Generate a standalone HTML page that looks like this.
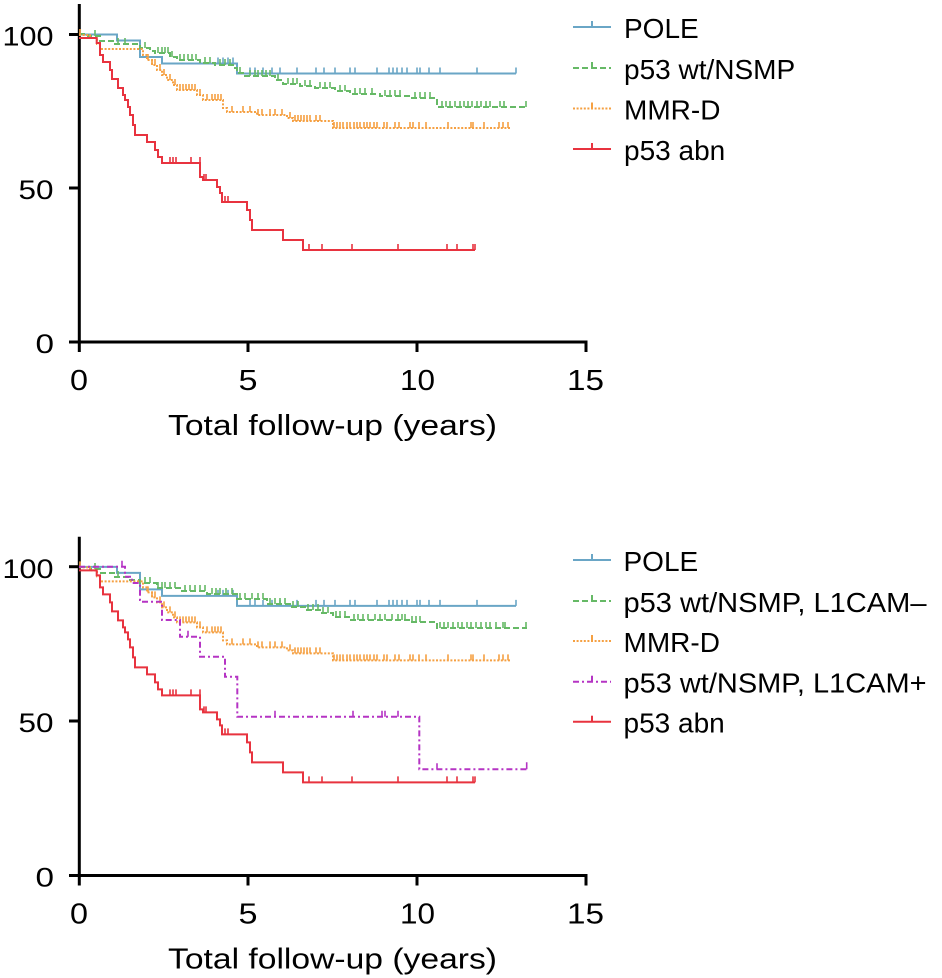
<!DOCTYPE html>
<html>
<head>
<meta charset="utf-8">
<style>
  html, body { margin: 0; padding: 0; background: #ffffff; }
  body { width: 942px; height: 978px; overflow: hidden; }
  svg { display: block; }
  text { font-family: "Liberation Sans", Arial, sans-serif; fill: #000; }
</style>
</head>
<body>
<svg width="942" height="978" viewBox="0 0 942 978" xmlns="http://www.w3.org/2000/svg">
  <defs>
    <g id="blueC">
      <path d="M79,34.5 H117 V40.5 H140 V57 H162 V63.5 H237 V73.5 H516" fill="none" stroke="#6aa6c6" stroke-width="2"/>
      <path d="M218 63.5v-6M223 63.5v-6M228 63.5v-6M233 63.5v-6M250 73.5v-6M255 73.5v-6M263 73.5v-6M272 73.5v-6M280 73.5v-6M297 73.5v-6M316 73.5v-6M324 73.5v-6M335 73.5v-6M350 73.5v-6M355 73.5v-6M377 73.5v-6M389 73.5v-6M393 73.5v-6M397 73.5v-6M402 73.5v-6M407 73.5v-6M417 73.5v-6M420 73.5v-6M429 73.5v-6M440 73.5v-6M477 73.5v-6M516 73.5v-6" fill="none" stroke="#6aa6c6" stroke-width="1.6"/>
    </g>
    <g id="orangeC">
      <path d="M79,35 H90 V38 H97 V44 H100 V49 H143 V55 H147 V60 H152 V65 H157 V70 H162 V75 H167 V80 H173 V85 H177 V90 H197 V95 H203 V100 H223 V108 H227 V112 H257 V115 H287 V118 H293 V121 H333 V128 H510" fill="none" stroke="#f5a042" stroke-width="2" stroke-dasharray="2,1.6"/>
      <path d="M80 35v-6M148 60v-6M152 65v-6M155 65v-6M160 70v-6M164 75v-6M170 80v-6M175 85v-6M180 90v-6M183 90v-6M186 90v-6M189 90v-6M192 90v-6M195 90v-6M200 95v-6M207 100v-6M212 100v-6M215 100v-6M218 100v-6M221 100v-6M232 112v-6M243 112v-6M250 112v-6M258 115v-6M262 115v-6M270 115v-6M275 115v-6M282 115v-6M290 118v-6M295 121v-6M298 121v-6M301 121v-6M304 121v-6M307 121v-6M310 121v-6M316 121v-6M320 121v-6M334 128v-6M337 128v-6M340 128v-6M343 128v-6M347 128v-6M350 128v-6M354 128v-6M357 128v-6M360 128v-6M364 128v-6M367 128v-6M370 128v-6M374 128v-6M377 128v-6M384 128v-6M387 128v-6M395 128v-6M399 128v-6M410 128v-6M413 128v-6M419 128v-6M426 128v-6M448 128v-6M471 128v-6M473 128v-6M484 128v-6M499 128v-6M503 128v-6M508 128v-6" fill="none" stroke="#f5a042" stroke-width="1.6"/>
    </g>
    <g id="redC">
      <path d="M79,38 H96.7 V43 H100 V55 H103 V62 H110 V70 H112 V79 H118 V88 H123 V95 H125 V100 H128 V107 H130 V115 H133 V125 H135 V135 H147 V142 H155 V150 H158 V157 H162 V163 H200 V177 H203 V180 H217 V187 H220 V193 H222 V202 H247 V210 H250 V220 H252 V230 H283 V240 H303 V250 H475" fill="none" stroke="#e8333f" stroke-width="2"/>
      <path d="M170 163v-6M173 163v-6M176 163v-6M191 163v-6M200 163v-6M204 180v-6M206 180v-6M225 202v-6M228 202v-6M309 250v-6M322 250v-6M352 250v-6M398 250v-6M447 250v-6M457 250v-6M473 250v-6M475 250v-6" fill="none" stroke="#e8333f" stroke-width="1.6"/>
    </g>
  </defs>

  <!-- ================= TOP CHART ================= -->
  <g stroke="#000" stroke-width="3" fill="none">
    <line x1="79.3" y1="4" x2="79.3" y2="352"/>
    <line x1="69" y1="342" x2="587.5" y2="342"/>
    <line x1="69" y1="34.5" x2="79.3" y2="34.5"/>
    <line x1="69" y1="188" x2="79.3" y2="188"/>
    <line x1="248" y1="342" x2="248" y2="352"/>
    <line x1="417" y1="342" x2="417" y2="352"/>
    <line x1="586" y1="342" x2="586" y2="352"/>
  </g>
  <text x="2.5" y="45.7" font-size="27" textLength="51" lengthAdjust="spacingAndGlyphs">100</text>
  <text x="18.5" y="199.2" font-size="27" textLength="35" lengthAdjust="spacingAndGlyphs">50</text>
  <text x="35.5" y="353.2" font-size="27" textLength="18.5" lengthAdjust="spacingAndGlyphs">0</text>
  <text x="70" y="390" font-size="29" textLength="18" lengthAdjust="spacingAndGlyphs">0</text>
  <text x="238.5" y="390" font-size="29" textLength="19" lengthAdjust="spacingAndGlyphs">5</text>
  <text x="400" y="390" font-size="29" textLength="35" lengthAdjust="spacingAndGlyphs">10</text>
  <text x="567" y="390" font-size="29" textLength="37" lengthAdjust="spacingAndGlyphs">15</text>
  <text x="168" y="435" font-size="29" textLength="329" lengthAdjust="spacingAndGlyphs">Total follow-up (years)</text>

  <use href="#blueC"/>
  <path d="M79,34 H88 V36 H100 V41 H115 V44 H140 V48 H150 V51 H155 V53 H170 V57 H177 V60 H200 V63 H215 V65 H233 V68 H237 V73 H245 V76 H275 V80 H283 V84 H300 V86 H315 V88 H335 V91 H350 V94 H380 V96 H410 V98 H437 V107 H527" fill="none" stroke="#66b966" stroke-width="2" stroke-dasharray="6,3"/>
  <path d="M95 36v-6M118 44v-6M125 44v-6M145 48v-6M158 53v-6M162 53v-6M165 53v-6M168 53v-6M172 57v-6M180 60v-6M184 60v-6M188 60v-6M192 60v-6M196 60v-6M205 63v-6M210 63v-6M220 65v-6M225 65v-6M230 65v-6M240 73v-6M250 76v-6M255 76v-6M258 76v-6M262 76v-6M266 76v-6M270 76v-6M278 80v-6M288 84v-6M293 84v-6M297 84v-6M305 86v-6M310 86v-6M320 88v-6M325 88v-6M330 88v-6M340 91v-6M345 91v-6M355 94v-6M360 94v-6M365 94v-6M372 94v-6M385 96v-6M390 96v-6M395 96v-6M400 96v-6M415 98v-6M420 98v-6M425 98v-6M430 98v-6M442 107v-6M446 107v-6M450 107v-6M455 107v-6M460 107v-6M464 107v-6M468 107v-6M472 107v-6M477 107v-6M481 107v-6M486 107v-6M490 107v-6M500 107v-6M504 107v-6M526 107v-6" fill="none" stroke="#66b966" stroke-width="1.6"/>
  <use href="#orangeC"/>
  <use href="#redC"/>

  <g stroke-width="2" fill="none">
    <line x1="573" y1="27" x2="611" y2="27" stroke="#6aa6c6"/>
    <line x1="592" y1="27" x2="592" y2="21" stroke="#6aa6c6"/>
    <line x1="573" y1="68" x2="611" y2="68" stroke="#66b966" stroke-dasharray="6,3"/>
    <line x1="592" y1="68" x2="592" y2="62" stroke="#66b966"/>
    <line x1="573" y1="108.5" x2="611" y2="108.5" stroke="#f5a042" stroke-dasharray="2,1.6"/>
    <line x1="592" y1="108.5" x2="592" y2="102.5" stroke="#f5a042"/>
    <line x1="573" y1="149" x2="611" y2="149" stroke="#e8333f"/>
    <line x1="592" y1="149" x2="592" y2="143" stroke="#e8333f"/>
  </g>
  <text x="624" y="38" font-size="28">POLE</text>
  <text x="624" y="79" font-size="28">p53 wt/NSMP</text>
  <text x="624" y="119.5" font-size="28">MMR-D</text>
  <text x="624" y="160" font-size="28">p53 abn</text>

  <!-- ================= BOTTOM CHART ================= -->
  <g stroke="#000" stroke-width="3" fill="none">
    <line x1="79.3" y1="536.7" x2="79.3" y2="885.5"/>
    <line x1="69" y1="875.5" x2="587.5" y2="875.5"/>
    <line x1="69" y1="566.7" x2="79.3" y2="566.7"/>
    <line x1="69" y1="721" x2="79.3" y2="721"/>
    <line x1="248" y1="875.5" x2="248" y2="885.5"/>
    <line x1="417" y1="875.5" x2="417" y2="885.5"/>
    <line x1="586" y1="875.5" x2="586" y2="885.5"/>
  </g>
  <text x="2.5" y="578" font-size="27" textLength="51" lengthAdjust="spacingAndGlyphs">100</text>
  <text x="18.5" y="732.2" font-size="27" textLength="35" lengthAdjust="spacingAndGlyphs">50</text>
  <text x="35.5" y="886.7" font-size="27" textLength="18.5" lengthAdjust="spacingAndGlyphs">0</text>
  <text x="70" y="923.5" font-size="29" textLength="18" lengthAdjust="spacingAndGlyphs">0</text>
  <text x="238.5" y="923.5" font-size="29" textLength="19" lengthAdjust="spacingAndGlyphs">5</text>
  <text x="400" y="923.5" font-size="29" textLength="35" lengthAdjust="spacingAndGlyphs">10</text>
  <text x="567" y="923.5" font-size="29" textLength="37" lengthAdjust="spacingAndGlyphs">15</text>
  <text x="168" y="968.5" font-size="29" textLength="329" lengthAdjust="spacingAndGlyphs">Total follow-up (years)</text>

  <g transform="translate(0,532.4)">
    <use href="#blueC"/>
  </g>
  <path d="M79,567 H90 V569 H100 V573 H115 V577 H130 V580 H140 V583 H157 V588 H180 V591 H207 V594 H237 V599 H267 V604 H290 V607 H305 V610 H320 V613 H333 V617 H350 V620 H410 V622 H437 V628 H527" fill="none" stroke="#66b966" stroke-width="2" stroke-dasharray="6,3"/>
  <path d="M95 569v-6M118 577v-6M145 583v-6M150 583v-6M158 588v-6M162 588v-6M165 588v-6M170 588v-6M175 588v-6M185 591v-6M190 591v-6M195 591v-6M200 591v-6M205 591v-6M212 594v-6M216 594v-6M220 594v-6M226 594v-6M232 594v-6M240 599v-6M245 599v-6M252 599v-6M258 599v-6M263 599v-6M270 604v-6M275 604v-6M280 604v-6M285 604v-6M293 607v-6M298 607v-6M308 610v-6M313 610v-6M318 610v-6M323 613v-6M328 613v-6M336 617v-6M340 617v-6M345 617v-6M354 620v-6M358 620v-6M363 620v-6M368 620v-6M375 620v-6M380 620v-6M385 620v-6M392 620v-6M398 620v-6M402 620v-6M405 620v-6M412 622v-6M416 622v-6M420 622v-6M440 628v-6M444 628v-6M448 628v-6M453 628v-6M458 628v-6M462 628v-6M467 628v-6M471 628v-6M476 628v-6M481 628v-6M486 628v-6M490 628v-6M496 628v-6M503 628v-6M505 628v-6M526 628v-6" fill="none" stroke="#66b966" stroke-width="1.6"/>
  <g transform="translate(0,532.4)">
    <use href="#orangeC"/>
  </g>
  <path d="M79,566.7 H125 V576.7 H132 V583 H140 V600 H142 V601.7 H162 V620 H180 V636.7 H200 V656.7 H225 V676.7 H237.3 V716.7 H419.3 V769.3 H526.7" fill="none" stroke="#b534c4" stroke-width="2" stroke-dasharray="6,3,2,3"/>
  <path d="M122 566.7v-6M188 636.7v-6M275 716.7v-6M353 716.7v-6M382 716.7v-6M385 716.7v-6M398 716.7v-6M437 769.3v-6M526.7 769.3v-7" fill="none" stroke="#b534c4" stroke-width="1.6"/>
  <g transform="translate(0,532.4)">
    <use href="#redC"/>
  </g>

  <g stroke-width="2" fill="none">
    <line x1="573" y1="560" x2="611" y2="560" stroke="#6aa6c6"/>
    <line x1="592" y1="560" x2="592" y2="554" stroke="#6aa6c6"/>
    <line x1="573" y1="601" x2="611" y2="601" stroke="#66b966" stroke-dasharray="6,3"/>
    <line x1="592" y1="601" x2="592" y2="595" stroke="#66b966"/>
    <line x1="573" y1="641" x2="611" y2="641" stroke="#f5a042" stroke-dasharray="2,1.6"/>
    <line x1="592" y1="641" x2="592" y2="635" stroke="#f5a042"/>
    <line x1="573" y1="681.7" x2="611" y2="681.7" stroke="#b534c4" stroke-dasharray="6,3,2,3"/>
    <line x1="592" y1="681.7" x2="592" y2="675.7" stroke="#b534c4"/>
    <line x1="573" y1="721.7" x2="611" y2="721.7" stroke="#e8333f"/>
    <line x1="592" y1="721.7" x2="592" y2="715.7" stroke="#e8333f"/>
  </g>
  <text x="623.5" y="571" font-size="28">POLE</text>
  <text x="623.5" y="612" font-size="28" textLength="303" lengthAdjust="spacingAndGlyphs">p53 wt/NSMP, L1CAM–</text>
  <text x="623.5" y="652" font-size="28">MMR-D</text>
  <text x="623.5" y="692.7" font-size="28" textLength="303" lengthAdjust="spacingAndGlyphs">p53 wt/NSMP, L1CAM+</text>
  <text x="623.5" y="732.7" font-size="28">p53 abn</text>
</svg>
</body>
</html>
